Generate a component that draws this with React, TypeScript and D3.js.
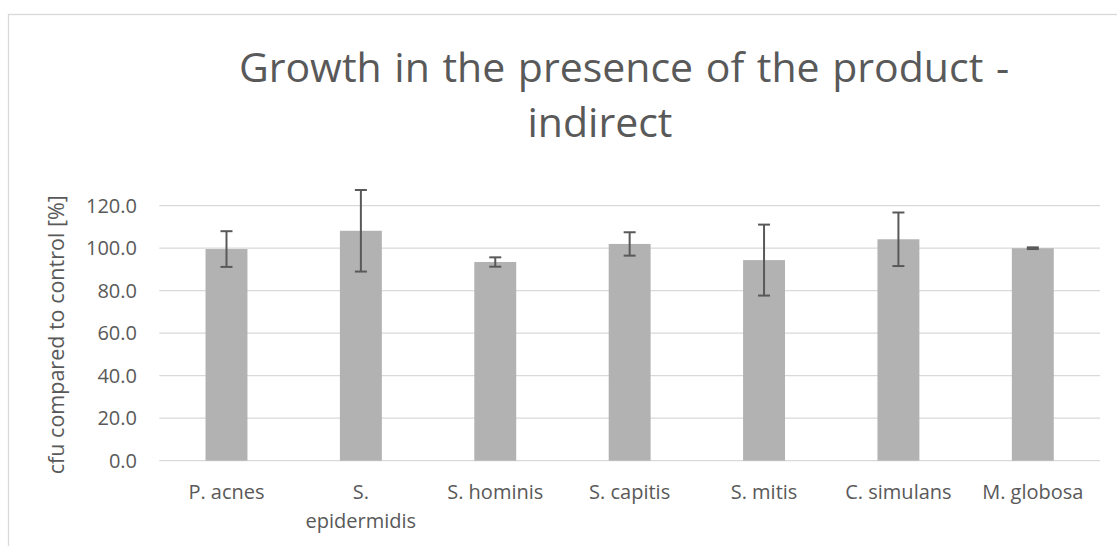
import { scaleBand, scaleLinear, format } from "d3";

// data
const categories = [
  "P. acnes",
  "S. epidermidis",
  "S. hominis",
  "S. capitis",
  "S. mitis",
  "C. simulans",
  "M. globosa",
];
const growth = [99.6, 108.2, 93.5, 102.0, 94.4, 104.2, 100.0];
const stdDev = [8.4, 19.2, 2.2, 5.5, 16.7, 12.6, 0.4];
const yTicks = [0, 20, 40, 60, 80, 100, 120];

const titleLines = ["Growth in the presence of the product -", "indirect"];
const yLabel = "cfu compared to control [%]";

const W = 1117;
const H = 546;
const FONT = "'Open Sans', 'Noto Sans', sans-serif";
const TEXT = "#595959";

// simple word wrap, roughly what Excel does for the narrow category slots
function wrap(label: string, maxChars: number) {
  const words = label.split(" ");
  const lines: string[] = [];
  let cur = "";
  words.forEach((w) => {
    const next = cur ? cur + " " + w : w;
    if (next.length > maxChars && cur) {
      lines.push(cur);
      cur = w;
    } else cur = next;
  });
  if (cur) lines.push(cur);
  return lines;
}

export default function App() {
  const plot = { left: 159.3, right: 1100, top: 205.7, bottom: 460.7 };

  const x = scaleBand<string>()
    .domain(categories)
    .range([plot.left, plot.right])
    .paddingInner(0.688)
    .paddingOuter(0.344);
  const y = scaleLinear().domain([0, 120]).range([plot.bottom, plot.top]);
  const fmt = format(".1f");

  const cap = 6;

  return (
    <svg
      width={W}
      height={H}
      style={{ position: "absolute", left: 0, top: 0, background: "#fff" }}
    >
      {/* chart area border, cut off by the picture on right and bottom */}
      <rect
        x={8.5}
        y={14.5}
        width={W + 20}
        height={H + 20}
        fill="#fff"
        stroke="#d9d9d9"
        strokeWidth={1.3}
      />

      {/* title */}
      <text
        x={624}
        y={81.5}
        textAnchor="middle"
        fontFamily={FONT}
        fontSize={41}
        wordSpacing={2}
        fill={TEXT}
      >
        {titleLines[0]}
      </text>
      <text
        x={600}
        y={137}
        textAnchor="middle"
        fontFamily={FONT}
        fontSize={41}
        fill={TEXT}
      >
        {titleLines[1]}
      </text>

      {/* gridlines */}
      {yTicks.map((t) => (
        <line
          key={"g" + t}
          x1={plot.left}
          x2={plot.right}
          y1={y(t)}
          y2={y(t)}
          stroke="#d9d9d9"
          strokeWidth={1.3}
        />
      ))}

      {/* y tick labels */}
      {yTicks.map((t) => (
        <text
          key={"t" + t}
          x={137}
          y={y(t)}
          dy="0.35em"
          textAnchor="end"
          fontFamily={FONT}
          fontSize={20}
          fill={TEXT}
        >
          {fmt(t)}
        </text>
      ))}

      {/* y axis title */}
      <text
        transform={`translate(64,${(plot.top + plot.bottom) / 2 + 1.5}) rotate(-90)`}
        textAnchor="middle"
        fontFamily={FONT}
        fontSize={21.5}
        fill={TEXT}
      >
        {yLabel}
      </text>

      {/* bars */}
      {categories.map((c, i) => (
        <rect
          key={"b" + c}
          x={x(c)}
          y={y(growth[i])}
          width={x.bandwidth()}
          height={y(0) - y(growth[i])}
          fill="#b2b2b2"
        />
      ))}

      {/* error bars */}
      {categories.map((c, i) => {
        const cx = (x(c) as number) + x.bandwidth() / 2;
        const hi = y(growth[i] + stdDev[i]);
        const lo = y(growth[i] - stdDev[i]);
        return (
          <g key={"e" + c} stroke="#595959" strokeWidth={2}>
            <line x1={cx} x2={cx} y1={hi} y2={lo} />
            <line x1={cx - cap} x2={cx + cap} y1={hi} y2={hi} />
            <line x1={cx - cap} x2={cx + cap} y1={lo} y2={lo} />
          </g>
        );
      })}

      {/* category labels */}
      {categories.map((c) => {
        const cx = (x(c) as number) + x.bandwidth() / 2;
        return (
          <text
            key={"c" + c}
            textAnchor="middle"
            fontFamily={FONT}
            fontSize={20}
            fill={TEXT}
          >
            {wrap(c, 12).map((line, j) => (
              <tspan key={j} x={cx} y={499 + j * 29}>
                {line}
              </tspan>
            ))}
          </text>
        );
      })}
    </svg>
  );
}
